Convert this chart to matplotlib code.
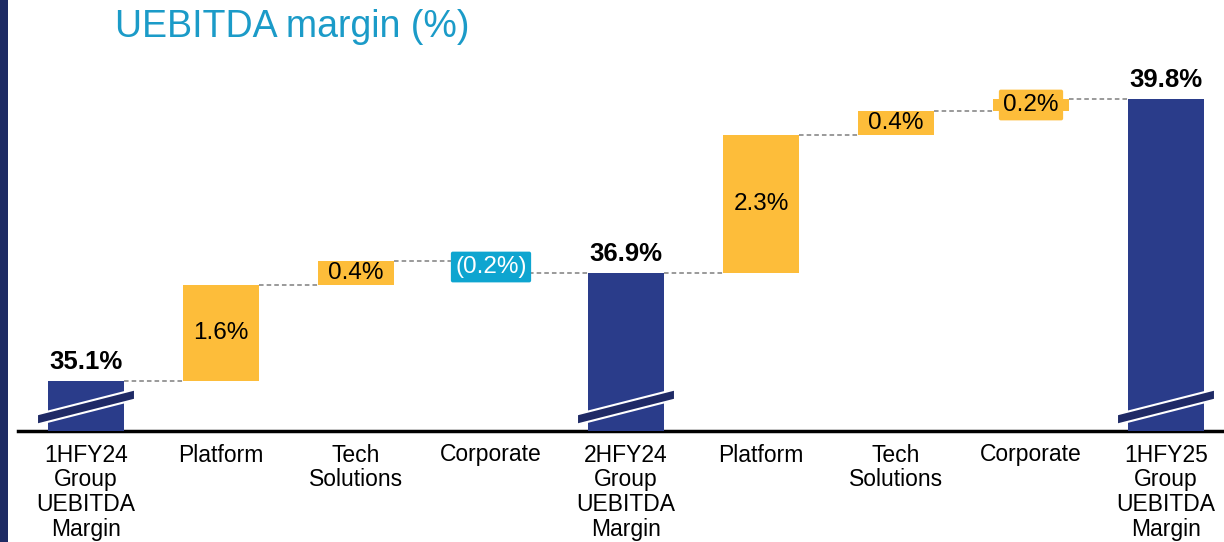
import matplotlib
matplotlib.use("Agg")
import matplotlib.pyplot as plt
from matplotlib.patches import Polygon, Rectangle

# data
categories = ["1HFY24\nGroup\nUEBITDA\nMargin", "Platform", "Tech\nSolutions", "Corporate",
              "2HFY24\nGroup\nUEBITDA\nMargin", "Platform", "Tech\nSolutions", "Corporate",
              "1HFY25\nGroup\nUEBITDA\nMargin"]
kinds = ["total", "delta", "delta", "delta", "total", "delta", "delta", "delta", "total"]
values = [35.1, 1.6, 0.4, -0.2, 36.9, 2.3, 0.4, 0.2, 39.8]
labels = ["35.1%", "1.6%", "0.4%", "(0.2%)", "36.9%", "2.3%", "0.4%", "0.2%", "39.8%"]

navy = "#2a3c8a"
navy_dark = "#1f2a66"
orange = "#fdbd3a"
cyan = "#0ea5d0"
title_col = "#1b9bc8"

plt.rcParams['font.family'] = ['Liberation Sans', 'DejaVu Sans']

fig = plt.figure(figsize=(12.24, 5.42), dpi=100)
ax = fig.add_axes([18 / 1224, (542 - 431) / 542, (1224 - 18) / 1224, (431 - 40) / 542])
ymin = 34.267
ax.set_xlim(-68 / 135, 8 + 58 / 135)
ax.set_ylim(ymin, 35.1 + (381 - 40) / 60)

w = 0.56
level = 0
bottoms, tops = [], []
for i, (k, v) in enumerate(zip(kinds, values)):
    if k == "total":
        b, t = ymin, v
        level = v
    else:
        b = level
        t = level + v
        level = t
    bottoms.append(b)
    tops.append(t)

for i, k in enumerate(kinds):
    b, t = bottoms[i], tops[i]
    lo, hi = min(b, t), max(b, t)
    if k == "total":
        col = navy
    elif values[i] < 0:
        col = cyan
    else:
        col = orange
    ax.bar(i, hi - lo, bottom=lo, width=w, color=col, zorder=3)

    if k == "total":
        ax.text(i, t + 0.12, labels[i], ha="center", va="bottom", fontsize=18.5,
                fontweight="bold", color="black", zorder=5)
        # axis-break stripe
        yb = ymin + 0.40
        dx, dy, th = 0.363, 0.208, 0.085
        pts = [(i - dx, yb - dy - th), (i + dx, yb + dy - th),
               (i + dx, yb + dy + th), (i - dx, yb - dy + th)]
        ax.add_patch(Polygon(pts, closed=True, facecolor=navy_dark, edgecolor="white",
                             linewidth=1.5, zorder=4))
    else:
        mid = (b + t) / 2
        txt_col = "white" if values[i] < 0 else "black"
        if hi - lo < 0.3:
            ax.text(i, mid, labels[i], ha="center", va="center", fontsize=17.5,
                    color=txt_col, zorder=5,
                    bbox=dict(boxstyle="round,pad=0.18,rounding_size=0.08",
                              facecolor=col, edgecolor="none"))
        else:
            ax.text(i, mid, labels[i], ha="center", va="center", fontsize=17.5,
                    color=txt_col, zorder=5)

# dashed connectors
for i in range(len(values) - 1):
    ax.plot([i + w / 2, i + 1 - w / 2], [tops[i], tops[i]], color="#7f7f7f",
            linestyle=(0, (3, 2)), linewidth=1.1, zorder=2)

ax.set_xticks(range(len(categories)))
ax.set_xticklabels(categories, fontsize=16.5, linespacing=1.1)
ax.tick_params(axis="x", length=0, pad=9)
ax.set_yticks([])
for s in ["top", "right", "left"]:
    ax.spines[s].set_visible(False)
ax.spines["bottom"].set_linewidth(2.5)
ax.spines["bottom"].set_color("black")

fig.text(115 / 1224, 1 - 27 / 542, "UEBITDA margin (%)", fontsize=27, color=title_col,
         ha="left", va="center")

fig.patches.append(Rectangle((0, 0), 8 / 1224, 1, transform=fig.transFigure,
                             facecolor="#1e2b64", edgecolor="none"))

fig.savefig("out.png", dpi=100)
